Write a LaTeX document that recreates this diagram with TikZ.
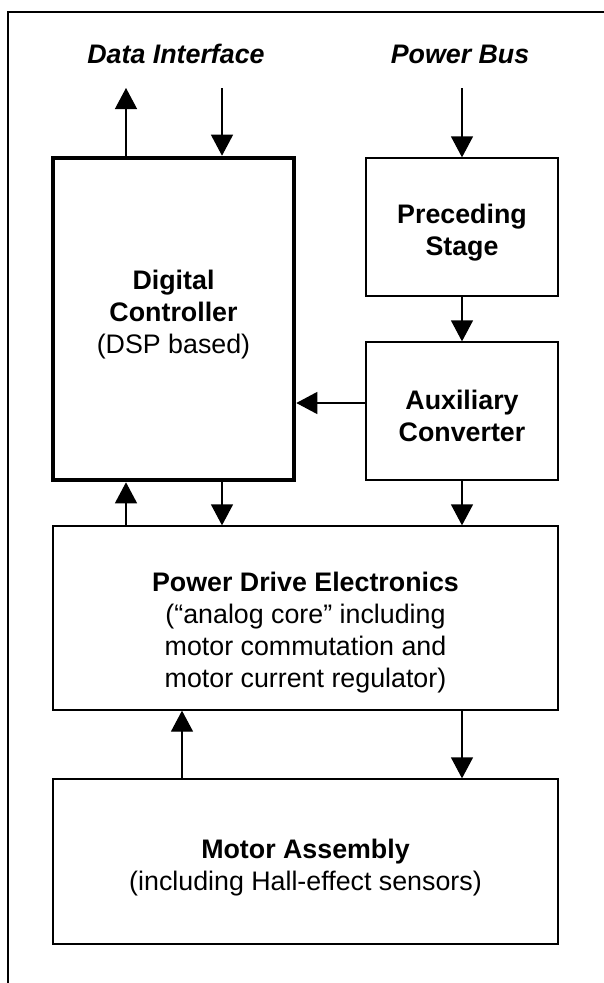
\documentclass[tikz,border=0pt]{standalone}
\usepackage{fontspec}
\setmainfont{Liberation Sans}
\usetikzlibrary{arrows.meta}
\begin{document}
\begin{tikzpicture}[x=1pt,y=-1pt,
  box/.style={draw, line width=1.3pt, rectangle, inner sep=0pt},
  thickbox/.style={draw, line width=4.6pt, rectangle, inner sep=0pt},
  txt/.style={align=center, inner sep=0pt, font=\fontsize{26.8}{32}\selectfont},
  ttl/.style={anchor=base, inner sep=0pt, font=\fontsize{26.8}{32}\selectfont\bfseries\itshape},
  arr/.style={line width=1.3pt, -{Triangle[length=21pt,width=22pt]}},
  frame/.style={line width=1.5pt}]
\useasboundingbox (0,0) rectangle (603,983);
% frame
\coordinate (ftr) at (604,12);
\coordinate (ftl) at (8,12);
\coordinate (fbl) at (8,984);
\draw[frame] (ftr) -- (ftl) -- (fbl);
% titles
\node[ttl] (di) at (176,63) {Data Interface};
\node[ttl] (pb) at (460,63) {Power Bus};
% boxes
\node[thickbox, minimum width=241pt, minimum height=322pt] (dc) at (173.5,319) {};
\node[box, minimum width=192pt, minimum height=138pt] (ps) at (462,227) {};
\node[box, minimum width=192pt, minimum height=138pt] (ac) at (462,411) {};
\node[box, minimum width=505pt, minimum height=184pt] (pde) at (305.5,618) {};
\node[box, minimum width=505pt, minimum height=165pt] (ma) at (305.5,861.5) {};
% texts
\node[txt] (dct) at ([yshift=4.8pt]dc.center) {\textbf{Digital}\\\textbf{Controller}\\(DSP based)};
\node[txt] (pst) at ([yshift=-6pt]ps.center) {\textbf{Preceding}\\\textbf{Stage}};
\node[txt] (act) at ([yshift=-5pt]ac.center) {\textbf{Auxiliary}\\\textbf{Converter}};
\node[txt] (pdet) at ([yshift=-15pt]pde.center) {\textbf{Power Drive Electronics}\\(“analog core” including\\motor commutation and\\motor current regulator)};
\node[txt] (mat) at ([yshift=-6pt]ma.center) {\textbf{Motor Assembly}\\(including Hall-effect sensors)};
% free ends
\coordinate (diout) at (126,88);
\coordinate (diin) at (222,88);
\coordinate (pbin) at (462,88);
\coordinate (xa) at (126,0);
\coordinate (xb) at (222,0);
\coordinate (xc) at (462,0);
\coordinate (xd) at (182,0);
\coordinate (yac) at (0,403);
% connectors
\draw[arr] (dc.north -| diout) -- (diout);
\draw[arr] (diin) -- (dc.north -| diin);
\draw[arr] (pbin) -- (ps.north -| pbin);
\draw[arr] (ps.south -| xc) -- (ac.north -| xc);
\draw[arr] (ac.west |- yac) -- (dc.east |- yac);
\draw[arr] (pde.north -| xa) -- (dc.south -| xa);
\draw[arr] (dc.south -| xb) -- (pde.north -| xb);
\draw[arr] (ac.south -| xc) -- (pde.north -| xc);
\draw[arr] (ma.north -| xd) -- (pde.south -| xd);
\draw[arr] (pde.south -| xc) -- (ma.north -| xc);
\end{tikzpicture}
\end{document}
